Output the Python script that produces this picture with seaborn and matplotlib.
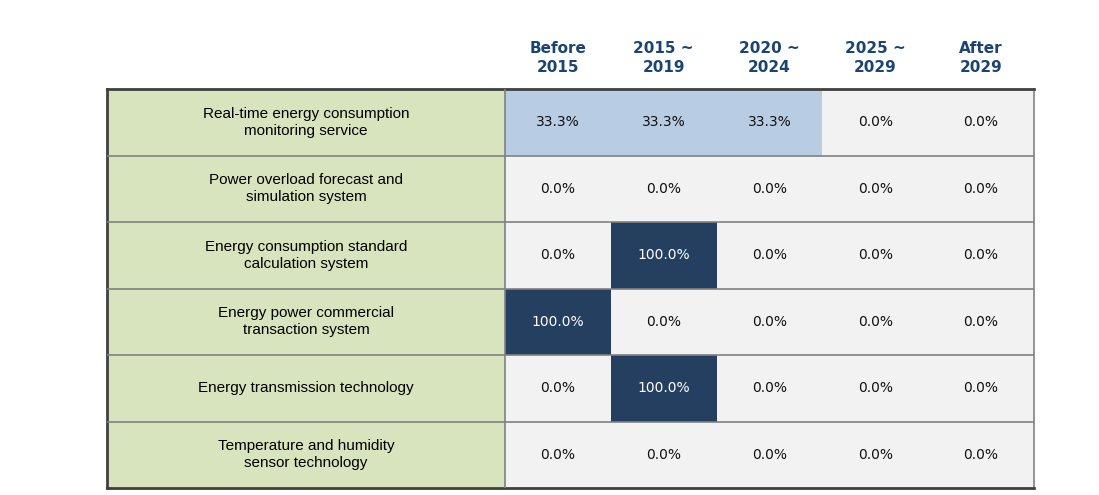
import numpy as np
import pandas as pd
import matplotlib.pyplot as plt
import seaborn as sns
from matplotlib.colors import ListedColormap, BoundaryNorm
from matplotlib.patches import Rectangle

# data (% share per period)
technologies = [
    "Real-time energy consumption\nmonitoring service",
    "Power overload forecast and\nsimulation system",
    "Energy consumption standard\ncalculation system",
    "Energy power commercial\ntransaction system",
    "Energy transmission technology",
    "Temperature and humidity\nsensor technology",
]
periods = ["Before\n2015", "2015 ~\n2019", "2020 ~\n2024", "2025 ~\n2029", "After\n2029"]
before_2015 = [33.3, 0.0, 0.0, 100.0, 0.0, 0.0]
p2015_2019 = [33.3, 0.0, 100.0, 0.0, 100.0, 0.0]
p2020_2024 = [33.3, 0.0, 0.0, 0.0, 0.0, 0.0]
p2025_2029 = [0.0, 0.0, 0.0, 0.0, 0.0, 0.0]
after_2029 = [0.0, 0.0, 0.0, 0.0, 0.0, 0.0]

df = pd.DataFrame(
    np.column_stack([before_2015, p2015_2019, p2020_2024, p2025_2029, after_2029]),
    index=technologies, columns=periods,
)
labels = df.map(lambda v: f"{v:.1f}%")

# cell colours: 0 -> light gray, 33.3 -> light blue, 100 -> navy
cmap = ListedColormap(["#f2f2f2", "#b8cce4", "#243f60"])
norm = BoundaryNorm([-1, 10, 60, 101], cmap.N)

fig = plt.figure(figsize=(10.99, 4.95), dpi=100)
ax = fig.add_axes([107 / 1099, 1 - 488 / 495, (1034 - 107) / 1099, (488 - 89) / 495])

sns.heatmap(df, ax=ax, cmap=cmap, norm=norm, cbar=False, annot=labels, fmt="",
            annot_kws={"fontsize": 10, "family": "DejaVu Sans"}, linewidths=0)
for t in ax.texts:
    if t.get_color() not in ("w", "white"):
        t.set_color("#111111")

# label column to the left of the heat cells
label_w = (505 - 107) / ((1034 - 505) / 5)
ax.set_xlim(-label_w, 5)
ax.set_ylim(len(technologies), 0)
ax.add_patch(Rectangle((-label_w, 0), label_w, len(technologies),
                       facecolor="#d7e4bd", edgecolor="none", zorder=0.5))
for i, name in enumerate(technologies):
    ax.text(-label_w / 2, i + 0.5, name, ha="center", va="center",
            fontsize=11, family="Liberation Sans", color="#000000", linespacing=1.3)

# column headers on top
ax.xaxis.tick_top()
ax.set_xticks(np.arange(5) + 0.5)
ax.set_xticklabels(periods, fontsize=11, fontweight="heavy", color="#1b4475",
                   family="DejaVu Sans", linespacing=1.35)
ax.tick_params(axis="x", length=0, pad=10)
ax.set_yticks([])
ax.set_xlabel("")
ax.set_ylabel("")

# grid lines and borders
for i in range(1, len(technologies)):
    ax.axhline(i, color="#808080", lw=1.2, zorder=3)
ax.axvline(0, color="#808080", lw=1.2, zorder=3)
for s in ax.spines.values():
    s.set_visible(True)
    s.set_color("#404040")
    s.set_linewidth(2)
ax.spines["right"].set_color("#808080")
ax.spines["right"].set_linewidth(1.2)

fig.savefig("out.png", dpi=100)
